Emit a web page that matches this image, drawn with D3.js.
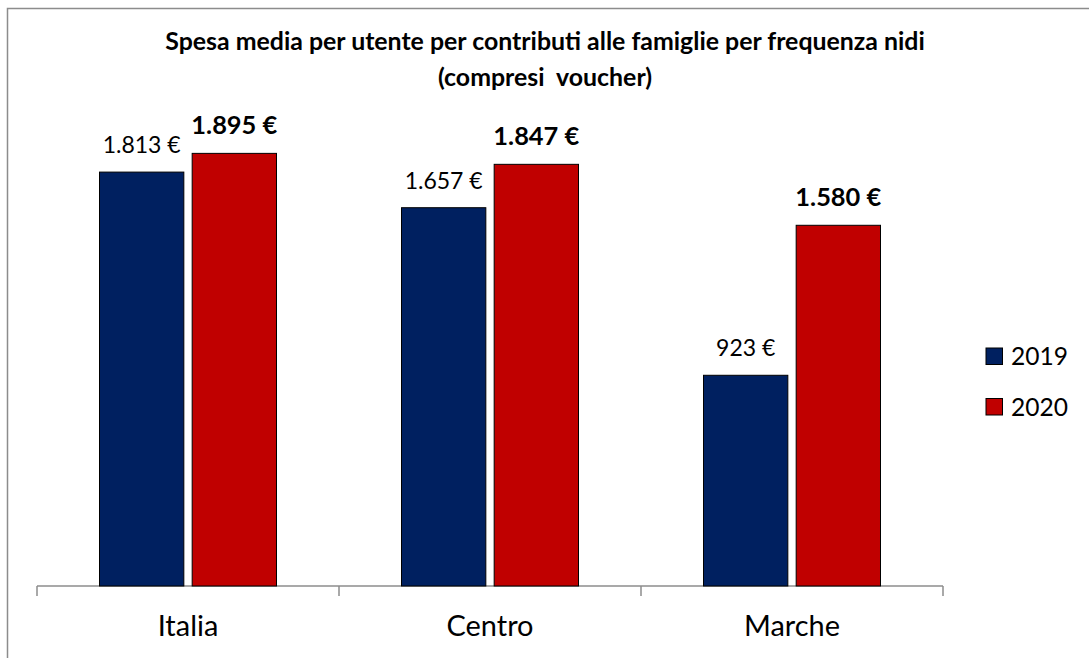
<!DOCTYPE html>
<html>
<head>
<meta charset="utf-8">
<script src="https://cdn.jsdelivr.net/npm/d3@7"></script>
<style>
  body { margin: 0; background: #fff; }
  svg { display: block; font-family: Lato, "Open Sans", sans-serif; }
</style>
</head>
<body>
<div id="wrapper"></div>
<script>
const categories = ["Italia", "Centro", "Marche"];
const years = ["2019", "2020"];
const values2019 = [1813, 1657, 923];
const values2020 = [1895, 1847, 1580];
const titleLines = ["Spesa media per utente per contributi alle famiglie per frequenza nidi", "(compresi  voucher)"];
const colors = { "2019": "#002060", "2020": "#C00000" };

const dataset = categories.map((c, i) => ({
  category: c,
  values: [
    { year: "2019", value: values2019[i] },
    { year: "2020", value: values2020[i] },
  ],
}));

const fmt = v => d3.format(",")(v).replace(/,/g, ".") + " €";

let dimensions = {
  width: 1089,
  height: 658,
  axisLeft: 37,
  axisRight: 943,
  baseline: 586,
}

const wrapper = d3.select("#wrapper")
  .append("svg")
  .attr("width", dimensions.width)
  .attr("height", dimensions.height);

// size a text so that it spans a target width
function fit(sel, target) {
  const node = sel.node();
  const base = parseFloat(sel.attr("font-size"));
  const w = node.getComputedTextLength();
  const size = base * target / w;
  sel.attr("font-size", size);
  return size;
}

// frame (only top and left visible in the picture)
wrapper.append("rect")
  .attr("x", 7.5)
  .attr("y", 8.5)
  .attr("width", 1200)
  .attr("height", 1000)
  .attr("fill", "none")
  .attr("stroke", "#8c8c8c")
  .attr("stroke-width", 1.5);

// title
const t1 = wrapper.append("text")
  .attr("x", 545).attr("y", 50)
  .attr("text-anchor", "middle")
  .attr("font-weight", "bold")
  .attr("font-size", 22)
  .text(titleLines[0]);
const titleSize = fit(t1, 760);
wrapper.append("text")
  .attr("x", 545).attr("y", 86)
  .attr("text-anchor", "middle")
  .attr("font-weight", "bold")
  .attr("font-size", titleSize)
  .style("white-space", "pre")
  .text(titleLines[1]);

// scales
const xScale = d3.scaleBand()
  .domain(categories)
  .range([dimensions.axisLeft, dimensions.axisRight]);

const groupWidth = 177;
const xInner = d3.scaleBand()
  .domain(years)
  .range([0, groupWidth])
  .paddingInner(0.09);

const yScale = d3.scaleLinear()
  .domain([0, 2000])
  .range([dimensions.baseline, dimensions.baseline - 456.6]);

// axis
const axis = wrapper.append("g")
  .attr("transform", `translate(0, ${dimensions.baseline})`);
axis.append("line")
  .attr("x1", dimensions.axisLeft).attr("x2", dimensions.axisRight)
  .attr("stroke", "#8c8c8c").attr("stroke-width", 1.5);
const tickXs = categories.map(c => xScale(c)).concat([xScale(categories[2]) + xScale.bandwidth()]);
axis.selectAll(".tick")
  .data(tickXs)
  .join("line")
  .attr("x1", d => d).attr("x2", d => d)
  .attr("y1", 0).attr("y2", 10)
  .attr("stroke", "#8c8c8c").attr("stroke-width", 1.5);

// bars
const groups = wrapper.selectAll(".group")
  .data(dataset)
  .join("g")
  .attr("transform", d => `translate(${xScale(d.category) + xScale.bandwidth() / 2 - groupWidth / 2}, 0)`);

groups.selectAll("rect")
  .data(d => d.values)
  .join("rect")
  .attr("x", d => xInner(d.year))
  .attr("width", xInner.bandwidth())
  .attr("y", d => yScale(d.value))
  .attr("height", d => yScale(0) - yScale(d.value))
  .attr("fill", d => colors[d.year])
  .attr("stroke", "#000")
  .attr("stroke-width", 1);

// value labels
const lab = groups.selectAll(".lab")
  .data(d => d.values)
  .join("text")
  .attr("x", d => xInner(d.year) + xInner.bandwidth() / 2)
  .attr("y", d => yScale(d.value) - 19)
  .attr("text-anchor", "middle")
  .attr("font-weight", d => d.year === "2020" ? "bold" : "normal")
  .attr("font-size", 22)
  .attr("fill", "#000")
  .text(d => fmt(d.value));

const normalSize = fit(lab.filter(d => d.year === "2019" && d.value === values2019[0]), 78);
const boldSize = fit(lab.filter(d => d.year === "2020" && d.value === values2020[0]), 86);
lab.attr("font-size", d => d.year === "2020" ? boldSize : normalSize);

// category labels
const cat = wrapper.selectAll(".cat")
  .data(categories)
  .join("text")
  .attr("x", d => xScale(d) + xScale.bandwidth() / 2)
  .attr("y", 636)
  .attr("text-anchor", "middle")
  .attr("font-size", 28)
  .text(d => d);
const catSize = fit(cat.filter(d => d === "Centro"), 87);
cat.attr("font-size", catSize);

// legend
const legend = wrapper.selectAll(".legend")
  .data(years)
  .join("g")
  .attr("transform", (d, i) => `translate(986, ${348 + i * 50.5})`);
legend.append("rect")
  .attr("width", 16.5).attr("height", 16.5)
  .attr("fill", d => colors[d])
  .attr("stroke", "#000").attr("stroke-width", 1);
const legText = legend.append("text")
  .attr("x", 25).attr("y", 17)
  .attr("font-size", 28)
  .text(d => d);
const legSize = fit(legText.filter((d, i) => i === 0), 57);
legText.attr("font-size", legSize);
</script>
</body>
</html>
